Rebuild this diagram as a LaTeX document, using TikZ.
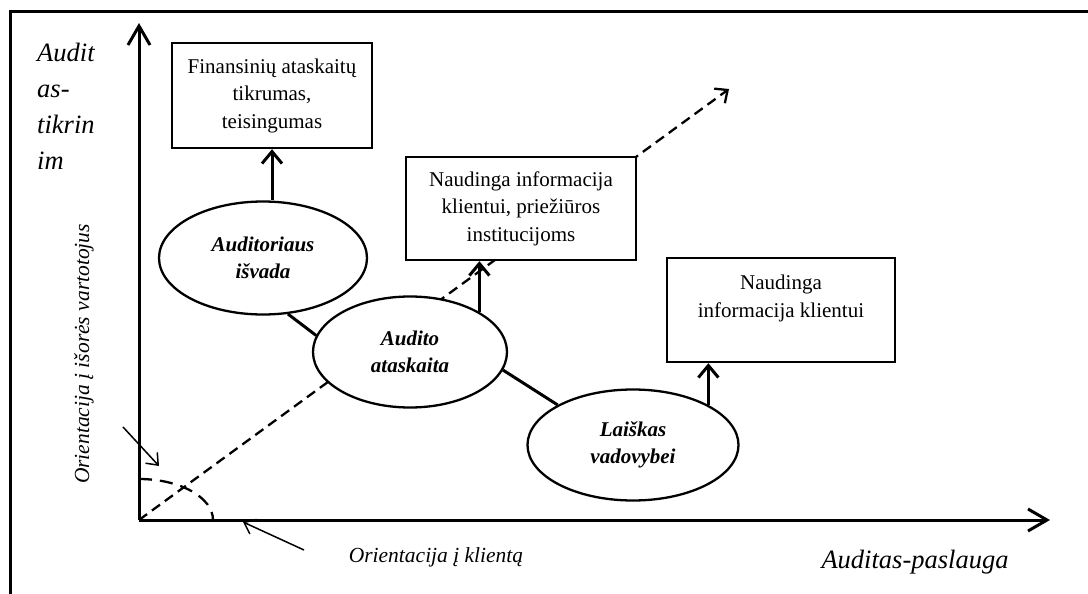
\documentclass[tikz,border=0pt]{standalone}
\usepackage{fontspec}
\setmainfont{Liberation Serif}
\usetikzlibrary{positioning,shapes.geometric,arrows.meta}

\begin{document}
\begin{tikzpicture}[x=1pt, y=-1pt,
  box/.style={rectangle, draw, line width=2.4pt, fill=white, align=center, inner sep=2pt, font=\fontsize{21}{27.5}\selectfont},
  oval/.style={ellipse, draw, line width=2.3pt, fill=white, align=center, inner sep=0pt, font=\fontsize{21}{27.5}\selectfont\bfseries\itshape},
  axis/.style={line width=3pt, -{Straight Barb[length=19pt, width=22pt]}},
  link/.style={line width=3pt},
  up/.style={line width=3pt, -{Straight Barb[length=12pt, width=20pt]}},
  pointer/.style={line width=1.5pt, -{Straight Barb[length=10pt, width=16pt]}},
  label/.style={font=\fontsize{21.5}{26}\selectfont\itshape, inner sep=0pt}]
\useasboundingbox (0,0) rectangle (1088,594);

% frame
\draw[line width=3pt] (10,594) -- (10,12) -- (1088,12);

% axes
\coordinate (O) at (139,520);
\coordinate (ytip) at (139,23);
\coordinate (xtip) at (1050,520);
\coordinate (dtip) at (729,89);
\draw[axis] (O) -- (ytip);
\draw[axis] (O) -- (xtip);
\draw[line width=2.3pt, dash pattern=on 10pt off 6pt, -{Straight Barb[length=10pt, width=18pt]}] (O) -- (dtip);
\draw[line width=2.3pt, dash pattern=on 13pt off 8pt] (139,479) arc[start angle=-90, end angle=0, x radius=74, y radius=41];

% boxes
\node[box, minimum width=200pt, minimum height=105pt] (fin) at (272,95.5) {Finansinių ataskaitų\\tikrumas,\\teisingumas};
\node[box, minimum width=230pt, minimum height=103pt] (inst) at (521,208.5) {Naudinga informacija\\klientui, priežiūros\\institucijoms};
\node[box, minimum width=228pt, minimum height=104pt] (kli) at (781,310) {Naudinga\\informacija klientui\\\mbox{}};

% ellipses
\node[oval, minimum width=208pt, minimum height=113pt] (isv) at (263,258) {Auditoriaus\\išvada};
\node[oval, minimum width=194pt, minimum height=111pt] (atask) at (410,352) {Audito\\ataskaita};
\node[oval, minimum width=211pt, minimum height=111pt] (lais) at (633,445) {Laiškas\\vadovybei};

\draw[link] (isv.-66) -- (atask.170);
\draw[link] (atask.-11) -- (lais.152);
\draw[up] (fin.south |- isv.north) -- (fin.south);
\draw[up] (atask.30) -- (inst.south -| atask.30);
\draw[up] (lais.28) -- (kli.south -| lais.28);

% labels
\node[anchor=north west, align=left, inner sep=0pt, font=\fontsize{26.5}{36}\selectfont\itshape] (ylab) at (37,43) {Audit\\as-\\tikrin\\im};
\node[label, rotate=90] (ext) at (84,354) {Orientacija į išorės vartotojus};
\node[label] (cli) at (436,557) {Orientacija į klientą};
\node[font=\fontsize{26.5}{32}\selectfont\itshape, inner sep=0pt] (xlab) at (915,562) {Auditas-paslauga};

% pointers
\coordinate (p1) at (123,427);
\coordinate (p1tip) at (159,466);
\coordinate (p2) at (304,550);
\coordinate (p2tip) at (243,522);
\draw[pointer] (p1) -- (p1tip);
\draw[pointer] (p2) -- (p2tip);
\end{tikzpicture}
\end{document}
